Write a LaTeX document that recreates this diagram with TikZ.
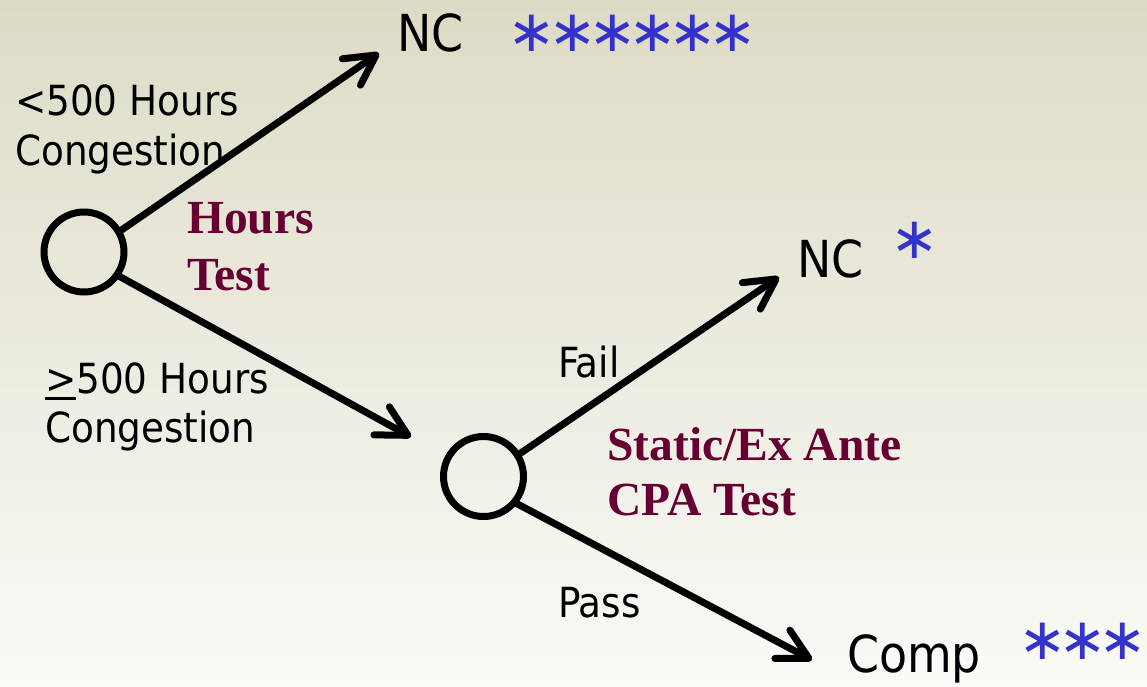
\documentclass[tikz,border=0pt]{standalone}
\usepackage{fontspec}
\setmainfont{DejaVu Sans Condensed}
\newfontfamily\stfont{DejaVu Sans}
\newfontfamily\bserif{Liberation Serif}
\usetikzlibrary{arrows.meta}
\definecolor{bgtop}{RGB}{221,219,198}
\definecolor{bgbot}{RGB}{250,250,247}
\definecolor{testred}{RGB}{102,0,51}
\definecolor{starblue}{RGB}{51,51,204}
\newcommand\ulgt{\leavevmode\rlap{\rule[-6.5pt]{31pt}{2.5pt}}>}
\newcommand\sk{\kern-8.5pt}
\tikzset{
  decision/.style={circle,draw=black,line width=7pt,minimum size=80pt,inner sep=0pt,outer sep=0pt},
  branch/.style={line width=7pt,-{Straight Barb[length=30pt,width=32pt,round]}},
  outcome/.style={anchor=base west,inner sep=0pt,font=\fontsize{51}{51}\selectfont},
  lbl/.style={anchor=base west,inner sep=0pt,align=left,font=\fontsize{41.5}{51}\selectfont},
  testlbl/.style={anchor=base west,inner sep=0pt,align=left,text=testred,font=\bserif\bfseries\fontsize{47.5}{57}\selectfont},
  stars/.style={anchor=center,inner sep=0pt,text=starblue,font=\stfont\fontsize{58}{58}\selectfont}
}
\begin{document}
\begin{tikzpicture}[x=1pt,y=-1pt]
\shade[top color=bgtop,bottom color=bgbot] (0,0) rectangle (1147,687);
\useasboundingbox (0,0) rectangle (1147,687);
% decision nodes
\node[decision] (c1) at (84,252) {};
\node[decision] (c2) at (483.5,476.5) {};
% outcomes
\node[outcome] (nc1) at (397,52) {NC};
\node[stars] (s1) at (632.5,33.5) {∗\sk∗\sk∗\sk∗\sk∗\sk∗};
\node[outcome] (nc2) at (797,277) {NC};
\node[stars] (s2) at (915,240) {∗};
\node[outcome] (comp) at (847,672) {Comp};
\node[stars] (s3) at (1083,641) {∗\sk∗\sk∗};
% arrow tips
\coordinate (t1) at (379,53);
\coordinate (t2) at (411,437);
\coordinate (t3) at (779,277);
\coordinate (t4) at (812,660);
% branches
\draw[branch] (c1.30) -- (t1);
\draw[branch] (c1.-35) -- (t2);
\draw[branch] (c2.32) -- (t3);
\draw[branch] (c2.-40) -- (t4);
% labels (base = last line)
\node[lbl] (l1) at (15,166) {<500 Hours\\Congestion};
\node[lbl,font=\fontsize{41.5}{49}\selectfont] (l2) at (45,442) {\ulgt500 Hours\\Congestion};
\node[lbl] (fail) at (558,377) {Fail};
\node[lbl] (pass) at (558,617) {Pass};
\node[testlbl] (ht) at (187,290) {Hours\\Test};
\node[testlbl,font=\bserif\bfseries\fontsize{47.5}{55}\selectfont] (st) at (607,515) {Static/Ex Ante\\CPA Test};
\end{tikzpicture}
\end{document}
